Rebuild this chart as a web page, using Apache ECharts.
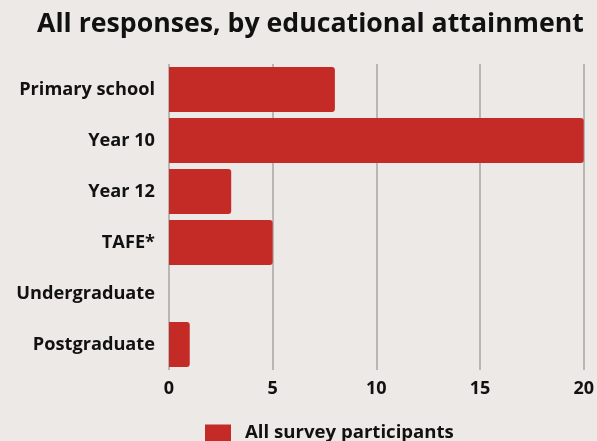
<!DOCTYPE html>
<html>
<head>
<meta charset="utf-8">
<script src="https://cdn.jsdelivr.net/npm/echarts@6/dist/echarts.min.js"></script>
<style>
  html, body { margin: 0; padding: 0; background: #ece9e6; }
  #chart { width: 597px; height: 441px; }
</style>
</head>
<body>
<div id="chart"></div>
<script>
// Survey responses grouped by highest education level
const categories = ['Primary school', 'Year 10', 'Year 12', 'TAFE*', 'Undergraduate', 'Postgraduate'];
const participants = [8, 20, 3, 5, 0, 1];
const xTicks = [0, 5, 10, 15, 20];

const FONT = '"Open Sans", "Noto Sans", sans-serif';
const chart = echarts.init(document.getElementById('chart'));

chart.setOption({
  backgroundColor: '#ece9e6',
  animation: false,
  title: {
    text: 'All responses, by educational attainment',
    left: 32,
    top: 6,
    textStyle: { fontFamily: FONT, fontWeight: 'bold', fontSize: 26.7, color: '#111' }
  },
  legend: {
    top: 418,
    left: 200,
    itemWidth: 26,
    itemHeight: 24,
    itemGap: 18,
    formatter: '{t|{name}}',
    textStyle: {
      padding: [0, 0, 0, 9],
      rich: {
        t: { fontFamily: FONT, fontWeight: 'bold', fontSize: 18.6, color: '#111', lineHeight: 22, padding: [0, 0, 8, 0] }
      }
    },
    data: [{ name: 'All survey participants', icon: 'rect' }]
  },
  grid: { left: 169, right: 12, top: 64, bottom: 71, containLabel: false },
  xAxis: {
    type: 'value',
    min: xTicks[0],
    max: xTicks[xTicks.length - 1],
    interval: 5,
    axisLine: { show: false },
    axisTick: { show: false },
    axisLabel: { fontFamily: FONT, fontWeight: 'bold', fontSize: 18, color: '#111', margin: 10 },
    splitLine: { show: true, lineStyle: { color: '#bab6b3', width: 2 } }
  },
  yAxis: {
    type: 'category',
    inverse: true,
    data: categories,
    axisLine: { show: false },
    axisTick: { show: false },
    axisLabel: { fontFamily: FONT, fontWeight: 'bold', fontSize: 18.2, color: '#111', margin: 14 }
  },
  series: [{
    name: 'All survey participants',
    type: 'bar',
    data: participants,
    barCategoryGap: '11.8%',
    itemStyle: { color: '#c42b26', borderRadius: [0, 3, 3, 0] }
  }]
});
</script>
</body>
</html>
